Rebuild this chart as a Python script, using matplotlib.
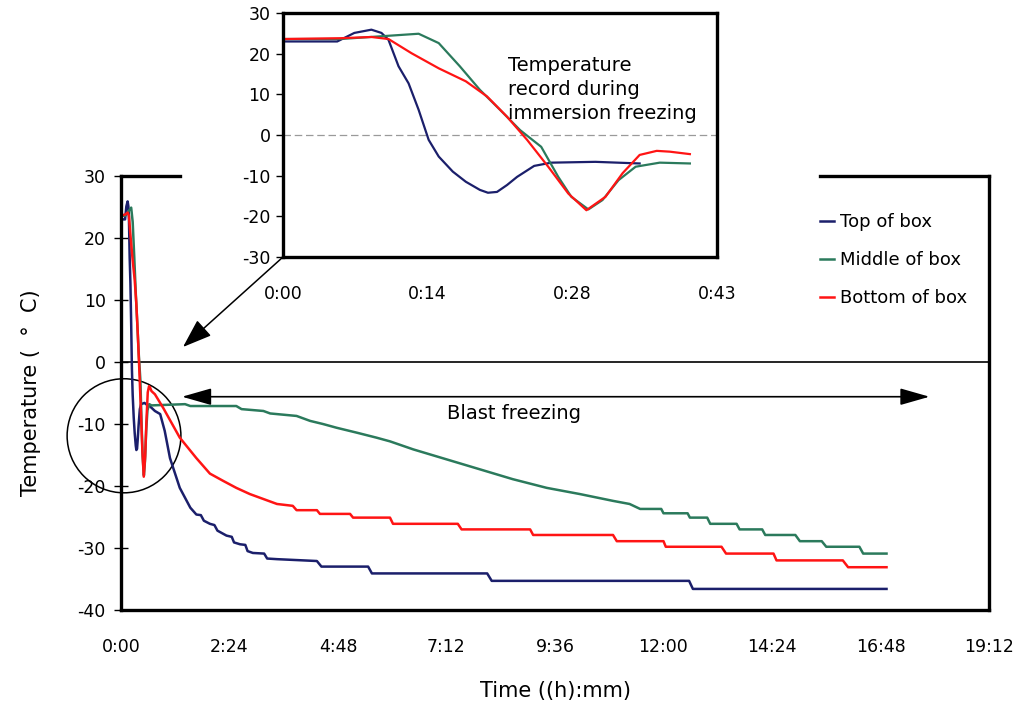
import matplotlib
matplotlib.use("Agg")
import matplotlib.pyplot as plt
from matplotlib.patches import Ellipse

plt.rcParams["axes.unicode_minus"] = False

# immersion freezing record (minutes, deg C)
imm_t_top = [0, 5.4, 7.1, 8.8, 9.8, 10.5, 11.5, 12.5, 13.5, 14.5, 15.5, 16.9, 18.2, 19.6, 20.4, 21.3, 22.3, 23.3, 25.0, 26.7, 31.1, 35.5]
imm_top = [23.0, 23.0, 25.1, 25.9, 25.1, 23.4, 16.9, 12.7, 6.2, -1.2, -5.3, -9.0, -11.5, -13.5, -14.2, -14.0, -12.3, -10.3, -7.6, -6.8, -6.6, -7.0]

imm_t_mid = [0, 5.7, 10.5, 13.5, 15.5, 17.6, 19.6, 21.6, 23.6, 25.7, 27.4, 28.7, 30.4, 31.8, 33.4, 35.1, 37.5, 40.5]
imm_mid = [23.6, 23.6, 24.4, 24.9, 22.6, 16.9, 11.1, 6.2, 1.2, -2.9, -10.3, -15.2, -18.3, -16.0, -11.1, -7.8, -6.8, -7.0]

imm_t_bot = [0, 5.7, 8.8, 10.5, 12.8, 15.5, 18.2, 20.3, 22.3, 24.3, 26.4, 28.4, 30.2, 32.1, 33.8, 35.5, 37.2, 38.5, 40.5]
imm_bot = [23.6, 23.8, 24.1, 23.6, 20.1, 16.4, 13.2, 9.5, 4.5, -1.2, -7.8, -14.4, -18.5, -15.2, -9.4, -4.9, -3.9, -4.1, -4.7]

# blast freezing record (minutes, deg C)
blast_t_top = [38, 45, 52, 58, 65, 78, 92, 100, 106, 110, 118, 124, 128, 140, 147, 150, 158, 165, 168, 175, 190, 194, 207,
               260, 266, 328, 333, 486, 492, 754, 759, 1016]
blast_top = [-7.1, -7.9, -8.4, -11.1, -15.5, -20.3, -23.5, -24.6, -24.7, -25.6, -26.1, -26.3, -27.2, -28.0, -28.2, -29.1, -29.4,
             -29.5, -30.5, -30.8, -30.9, -31.7, -31.8, -32.1, -33.0, -33.0, -34.1, -34.1, -35.3, -35.3, -36.6, -36.6]

blast_t_mid = [85, 92, 153, 160, 189, 198, 233, 251, 268, 286, 313, 339, 357, 388, 432, 476, 520, 565, 609, 653, 675, 689,
               717, 720, 752, 755, 778, 782, 817, 821, 851, 855, 895, 901, 930, 936, 980, 985, 1016]
blast_mid = [-6.8, -7.1, -7.1, -7.6, -7.9, -8.3, -8.7, -9.5, -10.0, -10.6, -11.4, -12.2, -12.8, -14.1, -15.7, -17.3, -18.9,
             -20.3, -21.3, -22.4, -22.9, -23.7, -23.7, -24.4, -24.4, -25.1, -25.1, -26.1, -26.1, -27.0, -27.0, -27.9, -27.9,
             -28.9, -28.9, -29.8, -29.8, -30.9, -30.9]

blast_t_bot = [45, 56, 78, 100, 118, 136, 153, 171, 189, 207, 228, 233, 260, 264, 304, 308, 357, 361, 447, 452, 543, 547,
               653, 658, 720, 723, 797, 803, 866, 870, 958, 965, 1016]
blast_bot = [-5.2, -7.4, -12.2, -15.5, -18.0, -19.2, -20.3, -21.3, -22.1, -22.9, -23.2, -23.9, -23.9, -24.5, -24.5, -25.1,
             -25.1, -26.1, -26.1, -27.0, -27.0, -27.9, -27.9, -28.9, -28.9, -29.8, -29.8, -30.9, -30.9, -32.0, -32.0, -33.1,
             -33.1]

main_ticks = [0, 144, 288, 432, 576, 720, 864, 1008, 1152]
main_labels = ["0:00", "2:24", "4:48", "7:12", "9:36", "12:00", "14:24", "16:48", "19:12"]
inset_ticks = [0, 14.4, 28.8, 43.2]
inset_labels = ["0:00", "0:14", "0:28", "0:43"]

c_top = "#1b1f6b"
c_mid = "#2b7a5c"
c_bot = "#ff1414"

W, H = 1018, 702
fig = plt.figure(figsize=(W / 100, H / 100), dpi=100)

# main chart
ax = fig.add_axes([121 / W, 1 - 610 / H, 868 / W, 434 / H])
ax.plot(imm_t_top + blast_t_top, imm_top + blast_top, color=c_top, lw=1.8, label="Top of box")
ax.plot(imm_t_mid + blast_t_mid, imm_mid + blast_mid, color=c_mid, lw=1.8, label="Middle of box")
ax.plot(imm_t_bot + blast_t_bot, imm_bot + blast_bot, color=c_bot, lw=1.8, label="Bottom of box")
ax.axhline(0, color="black", lw=1.2, zorder=1)
ax.set_xlim(0, 1152)
ax.set_ylim(-40, 30)
ax.set_xticks(main_ticks)
ax.set_xticklabels(main_labels)
ax.set_yticks(range(-40, 31, 10))
ax.tick_params(axis="x", length=0, pad=20, labelsize=12.5)
ax.tick_params(axis="y", direction="inout", length=10, width=1, pad=6, labelsize=12.5)
for s in ["left", "right", "bottom"]:
    ax.spines[s].set_linewidth(2.4)
ax.spines["top"].set_visible(False)
ax.plot([0, 0.068], [1, 1], transform=ax.transAxes, color="black", lw=2.4, clip_on=False, solid_capstyle="projecting")
ax.plot([0.805, 1], [1, 1], transform=ax.transAxes, color="black", lw=2.4, clip_on=False, solid_capstyle="projecting")
ax.set_xlabel("Time ((h):mm)", fontsize=15, labelpad=18)
ax.set_ylabel("Temperature (  °  C)", fontsize=15, labelpad=26)

ax.add_patch(Ellipse((4, -11.9), 151, 18.4, fill=False, ec="black", lw=1.1, clip_on=False))
ax.annotate("", xy=(81, -5.6), xytext=(1073, -5.6),
            arrowprops=dict(arrowstyle="<|-|>,head_length=1.4,head_width=0.4", color="black", lw=1.2,
                            mutation_scale=13, shrinkA=0, shrinkB=0))
ax.text(522, -8.3, "Blast freezing", ha="center", va="center", fontsize=14)

ax.legend(loc="upper left", bbox_to_anchor=(804 / W, 1 - 197 / H), bbox_transform=fig.transFigure,
          frameon=False, fontsize=13, handlelength=0.75, handletextpad=0.35, labelspacing=1.1)

# arrow from inset to the circled region
ax.annotate("", xy=(183 / W, 1 - 347 / H), xytext=(283 / W, 1 - 257 / H),
            xycoords="figure fraction", textcoords="figure fraction",
            arrowprops=dict(arrowstyle="-|>,head_length=1.4,head_width=0.5", color="black", lw=1.1,
                            mutation_scale=13, shrinkA=0, shrinkB=0))

# inset: immersion freezing
ins = fig.add_axes([283 / W, 1 - 257 / H, 434 / W, 244 / H])
ins.set_facecolor("white")
ins.plot(imm_t_top, imm_top, color=c_top, lw=1.6)
ins.plot(imm_t_mid, imm_mid, color=c_mid, lw=1.6)
ins.plot(imm_t_bot, imm_bot, color=c_bot, lw=1.6)
ins.axhline(0, color="#9a9a9a", lw=0.9, ls=(0, (6, 3)), zorder=0)
ins.set_xlim(0, 43.2)
ins.set_ylim(-30, 30)
ins.set_xticks(inset_ticks)
ins.set_xticklabels(inset_labels)
ins.set_yticks(range(-30, 31, 10))
ins.tick_params(axis="x", length=0, pad=20, labelsize=12.5)
ins.tick_params(axis="y", length=5, width=1, pad=4, labelsize=12.5)
for s in ins.spines.values():
    s.set_linewidth(2.4)
ins.text(22.4, 19.5, "Temperature\nrecord during\nimmersion freezing", ha="left", va="top",
         fontsize=14, linespacing=1.35)

fig.savefig("out.png", dpi=100)
